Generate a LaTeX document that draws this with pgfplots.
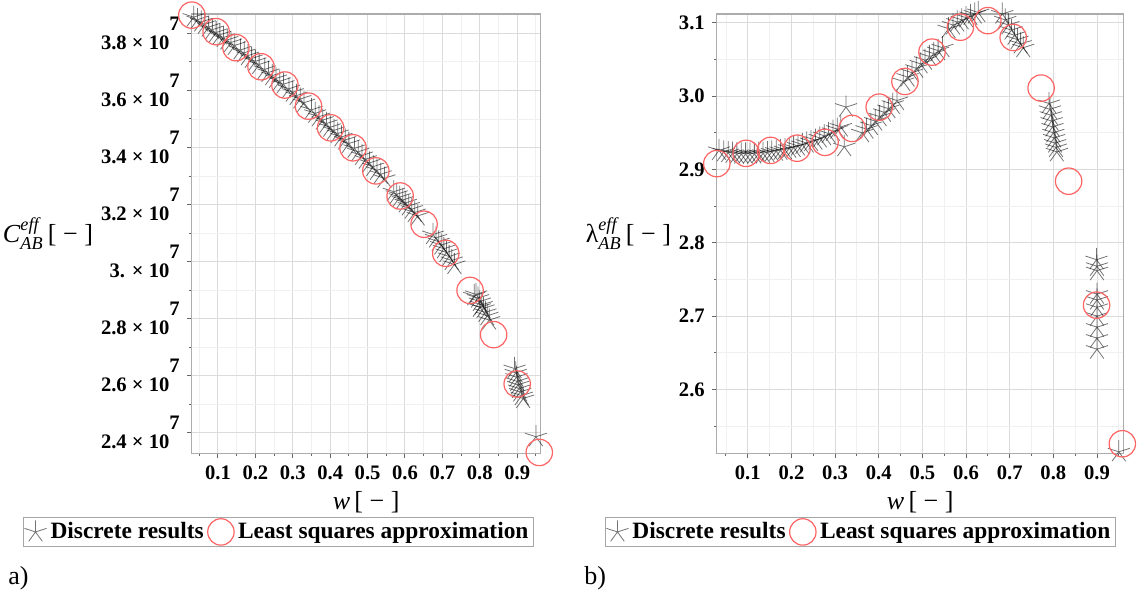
\documentclass[border=0pt]{standalone}
\usepackage{fontspec}
\setmainfont{Liberation Serif}
\usepackage{amsmath}
\usepackage{pgfplots}
\pgfplotsset{compat=1.18}
\definecolor{lsqred}{RGB}{255,100,100}

\pgfplotsset{
  mapleaxis/.style={
    scale only axis, clip=false, height=219.65pt,
    tick pos=left, tick align=outside,
    major tick length=2.5pt, minor tick length=1.5pt,
    every tick/.style={black!60, line width=0.5pt},
    grid=both,
    major grid style={gray!28, line width=0.5pt},
    minor grid style={gray!12, line width=0.45pt},
    axis line style={gray!65, line width=0.6pt},
    xtick={0.1,0.2,0.3,0.4,0.5,0.6,0.7,0.8,0.9},
    xticklabels={0.1,0.2,0.3,0.4,0.5,0.6,0.7,0.8,0.9},
    minor xtick={0.05,0.15,0.25,0.35,0.45,0.55,0.65,0.75,0.85,0.95},
    ticklabel style={font=\bfseries\fontsize{10.3}{12}\selectfont},
    xlabel={\textit{w}\,[ − ]},
    label style={font=\fontsize{13}{15}\selectfont},
    xlabel style={yshift=1pt},
    ylabel style={rotate=-90, at={(ticklabel cs:0.5)}, anchor=east, inner sep=0.5pt},
    legend columns=2,
    legend style={draw=gray!70, line width=0.5pt, inner sep=0.5pt, anchor=center,
      font=\bfseries\fontsize{11.7}{13}\selectfont,
      /tikz/every even column/.append style={column sep=0pt}},
    legend cell align=left,
  },
  discrete/.style={only marks, mark=star, mark size=5.8pt,
    mark options={draw=black, draw opacity=0.55, line width=0.4pt},
    legend image code/.code={\draw[##1] plot coordinates {(0.22cm,0cm)};}},
  lsq/.style={only marks, mark=o, mark size=6.6pt,
    mark options={draw=lsqred, line width=0.6pt, fill=none},
    legend image code/.code={\draw[##1] plot coordinates {(0.24cm,0cm)};}},
}

\begin{document}
\begin{tikzpicture}
\path[use as bounding box] (0,0) rectangle (569pt,-298.5pt);

% ---------- a) effective C ----------
\begin{axis}[mapleaxis,
  at={(95.9pt,-7pt)}, anchor=north west, width=174.3pt,
  xmin=0.030, xmax=0.962, ymin=2.328, ymax=3.868,
  ytick={2.4,2.6,2.8,3.0,3.2,3.4,3.6,3.8},
  yticklabels={
    {2.4 × 10\raisebox{9.5pt}{7}},{2.6 × 10\raisebox{9.5pt}{7}},
    {2.8 × 10\raisebox{9.5pt}{7}},{3. × 10\raisebox{9.5pt}{7}},
    {3.2 × 10\raisebox{9.5pt}{7}},{3.4 × 10\raisebox{9.5pt}{7}},
    {3.6 × 10\raisebox{9.5pt}{7}},{3.8 × 10\raisebox{9.5pt}{7}}},
  minor ytick={2.5,2.7,2.9,3.1,3.3,3.5,3.7},
  ylabel={\textit{C}$^{\textit{eff}}_{\textit{AB}}$\,[ − ]},
  legend style={at={(0.2487,-0.179)}},
]
\addplot[discrete] coordinates {
  (0.035,3.857) (0.045,3.848) (0.055,3.840) (0.065,3.832) (0.075,3.822)
  (0.085,3.813) (0.095,3.803) (0.105,3.795) (0.115,3.786) (0.125,3.777)
  (0.135,3.768) (0.145,3.758) (0.160,3.742) (0.170,3.732) (0.180,3.722)
  (0.190,3.712) (0.200,3.702) (0.210,3.691) (0.225,3.674) (0.235,3.663)
  (0.245,3.652) (0.255,3.642) (0.265,3.632) (0.275,3.622) (0.290,3.606)
  (0.300,3.594) (0.310,3.582) (0.320,3.570) (0.330,3.557) (0.350,3.532)
  (0.360,3.520) (0.370,3.508) (0.380,3.496) (0.390,3.484) (0.400,3.471)
  (0.410,3.460) (0.420,3.449) (0.430,3.437) (0.440,3.426) (0.450,3.414)
  (0.465,3.397) (0.475,3.385) (0.485,3.372) (0.495,3.359) (0.505,3.346)
  (0.515,3.333) (0.525,3.320) (0.535,3.306) (0.545,3.292)
  (0.570,3.245) (0.578,3.236) (0.586,3.226) (0.594,3.216) (0.602,3.206)
  (0.610,3.195) (0.618,3.184) (0.626,3.172) (0.634,3.160)
  (0.675,3.095) (0.683,3.083) (0.690,3.070) (0.697,3.058) (0.704,3.045)
  (0.711,3.032) (0.718,3.018) (0.725,3.004) (0.732,2.990)
  (0.785,2.880) (0.790,2.885) (0.795,2.872) (0.800,2.860) (0.800,2.840)
  (0.805,2.848) (0.810,2.836) (0.815,2.822) (0.820,2.810) (0.825,2.795)
  (0.893,2.625) (0.896,2.610) (0.898,2.595) (0.900,2.580) (0.902,2.568)
  (0.905,2.555) (0.908,2.543) (0.912,2.530) (0.916,2.520)
  (0.950,2.386)
};
\addlegendentry{Discrete results}
\addplot[lsq] coordinates {
  (0.030,3.864) (0.095,3.806) (0.148,3.750) (0.215,3.683) (0.279,3.619)
  (0.342,3.545) (0.401,3.469) (0.461,3.399) (0.522,3.318) (0.587,3.230)
  (0.651,3.131) (0.709,3.029) (0.774,2.899) (0.837,2.744) (0.900,2.571)
  (0.959,2.331)
};
\addlegendentry{Least squares approximation}
\end{axis}

% ---------- b) effective lambda ----------
\begin{axis}[mapleaxis,
  at={(358.4pt,-7pt)}, anchor=north west, width=203.4pt,
  xmin=0.029, xmax=0.961, ymin=2.513, ymax=3.112,
  ytick={2.6,2.7,2.8,2.9,3.0,3.1},
  yticklabels={2.6,2.7,2.8,2.9,3.0,3.1},
  minor ytick={2.55,2.65,2.75,2.85,2.95,3.05},
  ylabel={λ$^{\textit{eff}}_{\textit{AB}}$\,[ − ]},
  legend style={at={(0.353,-0.179)}},
]
\addplot[discrete] coordinates {
  (0.034,2.926) (0.045,2.924) (0.055,2.923) (0.065,2.922) (0.075,2.921)
  (0.085,2.921) (0.095,2.921) (0.105,2.921) (0.115,2.921) (0.125,2.922)
  (0.135,2.922) (0.145,2.923) (0.155,2.924) (0.165,2.925) (0.175,2.926)
  (0.185,2.927) (0.195,2.929) (0.205,2.930) (0.215,2.932) (0.225,2.934)
  (0.235,2.936) (0.245,2.938) (0.255,2.940) (0.265,2.943) (0.275,2.946)
  (0.285,2.949) (0.295,2.952) (0.305,2.955) (0.313,2.958)
  (0.325,2.985) (0.321,2.931)
  (0.362,2.950) (0.372,2.955) (0.382,2.960) (0.392,2.966) (0.402,2.972)
  (0.412,2.978) (0.422,2.983) (0.432,2.989) (0.442,2.994)
  (0.456,3.020) (0.466,3.026) (0.476,3.032) (0.486,3.038) (0.496,3.044)
  (0.506,3.049) (0.516,3.054) (0.526,3.058) (0.536,3.062) (0.546,3.066)
  (0.560,3.092) (0.570,3.097) (0.580,3.101) (0.590,3.104) (0.600,3.107)
  (0.610,3.110) (0.620,3.112) (0.628,3.114)
  (0.683,3.112) (0.690,3.104) (0.697,3.097) (0.704,3.090) (0.711,3.083)
  (0.718,3.077) (0.725,3.071) (0.731,3.066)
  (0.790,2.990) (0.792,2.982) (0.794,2.974) (0.796,2.966) (0.798,2.958)
  (0.800,2.950) (0.802,2.943) (0.804,2.936) (0.806,2.930) (0.808,2.924)
  (0.899,2.777) (0.900,2.768) (0.900,2.762) (0.900,2.730) (0.900,2.722)
  (0.900,2.712) (0.900,2.700) (0.900,2.685) (0.900,2.670) (0.900,2.655)
  (0.950,2.515)
};
\addlegendentry{Discrete results}
\addplot[lsq] coordinates {
  (0.029,2.908) (0.096,2.922) (0.152,2.926) (0.213,2.929) (0.277,2.937)
  (0.339,2.956) (0.401,2.985) (0.460,3.020) (0.522,3.060) (0.587,3.094)
  (0.650,3.103) (0.708,3.080) (0.772,3.011) (0.835,2.884) (0.899,2.715)
  (0.958,2.526)
};
\addlegendentry{Least squares approximation}
\end{axis}

\node[anchor=west, font=\fontsize{13}{15}\selectfont, inner sep=0pt] at (4pt,-289pt) {a)};
\node[anchor=west, font=\fontsize{13}{15}\selectfont, inner sep=0pt] at (292pt,-289pt) {b)};
\end{tikzpicture}
\end{document}
